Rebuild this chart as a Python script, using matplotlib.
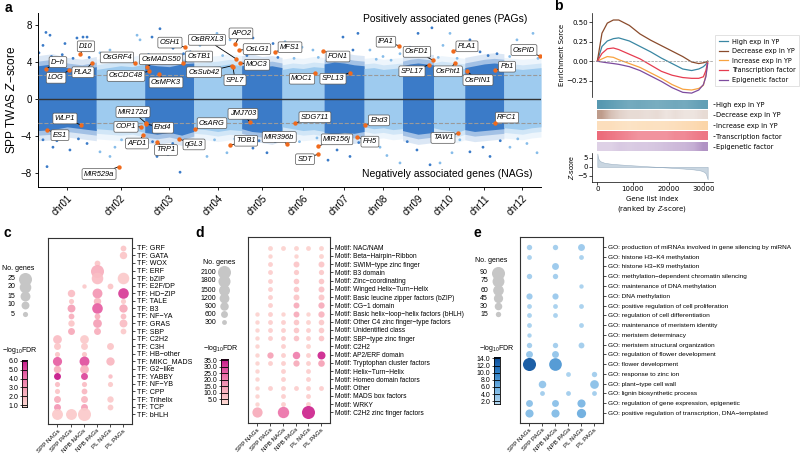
import numpy as np
import matplotlib
matplotlib.use("Agg")
import matplotlib.pyplot as plt
from matplotlib.colors import LinearSegmentedColormap, Normalize
from matplotlib.lines import Line2D

plt.rcParams['font.family'] = ['Liberation Sans', 'DejaVu Sans']
plt.rcParams['mathtext.fontset'] = 'custom'
plt.rcParams['mathtext.it'] = 'Liberation Sans:italic'
plt.rcParams['mathtext.rm'] = 'Liberation Sans'

# ---------------- panel a data ----------------
chrom_names = ['chr01', 'chr02', 'chr03', 'chr04', 'chr05', 'chr06',
               'chr07', 'chr08', 'chr09', 'chr10', 'chr11', 'chr12']
chrom_len = [43.27, 35.94, 36.41, 35.50, 29.96, 31.25, 29.70, 28.44, 23.01, 23.21, 29.02, 27.53]

# edges of the dense band of genes (z) at 5 evenly spaced points on each chromosome
core_up = [[3.6, 3.8, 3.4, 3.2, 3.5], [3.2, 3.4, 3.6, 3.5, 3.8], [3.8, 3.6, 3.5, 3.8, 3.9],
           [3.4, 3.5, 3.6, 3.8, 3.6], [3.6, 3.8, 3.5, 3.6, 3.4], [3.2, 3.4, 3.3, 3.5, 3.4],
           [3.8, 4.0, 3.9, 3.7, 3.6], [3.3, 3.4, 3.2, 3.3, 3.4], [3.6, 3.8, 3.9, 3.8, 3.7],
           [3.4, 3.6, 3.5, 3.4, 3.3], [3.4, 3.6, 3.8, 3.9, 3.8], [3.4, 3.3, 3.2, 3.3, 3.4]]
core_lo = [[-3.4, -3.3, -3.0, -3.2, -3.4], [-3.2, -3.3, -3.4, -3.3, -3.6], [-3.6, -3.8, -3.6, -3.9, -3.5],
           [-3.2, -3.3, -3.5, -3.3, -3.4], [-3.2, -3.5, -3.6, -3.8, -3.4], [-3.0, -3.2, -3.4, -3.3, -3.5],
           [-3.6, -3.8, -3.6, -3.7, -3.5], [-3.0, -3.2, -3.1, -3.3, -3.2], [-3.4, -3.6, -3.8, -3.7, -3.6],
           [-3.1, -3.3, -3.4, -3.6, -3.3], [-3.3, -3.5, -3.4, -3.3, -3.2], [-3.1, -3.2, -3.3, -3.1, -3.0]]

# scattered genes outside the band (genome position Mb, z)
out_pos = [5.9, 8.9, 3.7, 28.9, 33.4, 36.4, 0.7, 20.0, 10, 18, 26, 38, 6.7, 11.1, 23.7, 36.4, 3.7, 17.8, 14, 30,
           46.0, 53.4, 73.5, 75.7, 60.8, 50, 66, 46.0, 57.1, 53.4, 69.7, 62, 76,
           90.5, 84.6, 100.2, 82, 94, 108, 113, 105.4, 96.5, 88.3, 85, 100, 110,
           120.2, 132.8, 142.5, 123.9, 128, 137, 125.4, 140.2, 120.2, 131, 146,
           159.5, 167.0, 174.4, 155, 178, 169.9, 159.5, 164, 176,
           183.3, 195.9, 204.0, 190, 208, 201.8, 186, 194, 207,
           226.3, 237.4, 233.7, 218, 229, 215.2, 231.5, 221.9, 238,
           246.3, 256.0, 268.6, 251, 262, 253.8, 268.6, 258.9, 247,
           282.0, 292.3, 276.0, 286, 290.9, 281.2, 274,
           305.7, 300.5, 297, 311, 307.2, 298.3, 313,
           320.5, 328.0, 340.6, 334, 330.2, 320.5, 335.4, 343,
           355.4, 367.3, 362.8, 350, 371, 350.2, 362.8, 370.3, 356]
out_z = [7.2, 6.9, 5.8, 6.6, 6.7, 6.7, 5.0, 6.0, 4.6, 4.8, 4.4, 4.5, -7.3, -5.2, -5.5, -4.8, -4.4, -4.2, -4.5, -4.3,
         5.0, 5.3, 6.9, 6.4, 4.6, 4.4, 4.7, -5.7, -5.2, -6.2, -4.8, -4.4, -4.5,
         7.6, 6.7, 5.5, 4.8, 4.6, 4.9, 5.1, -7.9, -6.0, -6.2, -4.6, -4.8, -4.5,
         5.8, 7.1, 6.4, 4.4, 4.6, 4.7, -6.2, -5.8, -5.2, -4.4, -4.3,
         6.6, 5.6, 6.0, 4.7, 4.5, -5.8, -5.3, -4.5, -4.6,
         6.2, 5.6, 5.3, 4.4, 4.5, -6.2, -4.3, -4.6, -4.2,
         6.7, 7.1, 5.3, 4.9, 4.8, -6.6, -6.2, -5.5, -4.7,
         5.3, 4.6, 4.9, 4.3, 4.2, -5.2, -6.9, -6.1, -4.3,
         7.1, 7.7, 5.6, 4.8, -7.1, -5.5, -4.6,
         7.1, 5.8, 4.5, 4.4, -5.8, -6.9, -4.4,
         6.4, 5.1, 4.9, 4.7, -5.2, -5.7, -6.2, -4.5,
         6.4, 7.1, 5.3, 4.6, 4.4, -5.2, -4.8, -5.8, -4.3]

# labelled genes: name, chromosome, position in chromosome (Mb), z
gene_name = ['D−h', 'LOG', 'D10', 'PLA2', 'OsGRF4', 'OsMADS50', 'OsCDC48', 'OsMPK3', 'OSH1', 'OsTB1',
             'OsBRXL3', 'APO2', 'OsSub42', 'SPL7', 'OsLG1', 'MOC3', 'MFS1', 'FON1', 'MOC1', 'SPL13',
             'IPA1', 'OsFD1', 'SPL17', 'PLA1', 'OsPht1', 'OsPIN1', 'Pb1', 'OsPID',
             'WLP1', 'ES1', 'MIR529a', 'MIR172d', 'COP1', 'Ehd4', 'AFD1', 'TRP1', 'qGL3', 'OsARG',
             'JMJ703', 'TOB1', 'MIR396b', 'SDG711', 'SDT', 'MIR156j', 'FH5', 'Ehd3', 'TAW1', 'RFC1']
gene_chr = [1, 1, 1, 1, 2, 3, 3, 3, 3, 3, 4, 4, 4, 4, 4, 4, 5, 6, 6, 7, 8, 9, 9, 10, 10, 11, 11, 12,
            1, 1, 2, 3, 2, 3, 2, 3, 3, 4, 5, 4, 6, 6, 6, 6, 7, 8, 10, 11]
gene_pos = [5.7, 23.0, 31.2, 40.1, 28.7, 1.4, 3.1, 10.5, 29.8, 28.3, 31.3, 30.6, 28.3, 29.0, 33.6, 34.3,
            24.7, 30.4, 24.5, 19.1, 26.1, 22.6, 19.4, 14.5, 16.0, 1.6, 22.4, 26.8,
            31.9, 6.7, 16.8, 0.9, 33.4, 1.3, 34.9, 9.1, 25.4, 0.9, 6.2, 26.9, 3.7, 9.6, 26.7, 26.5,
            24.3, 0.6, 18.2, 22.4]
gene_z = [3.24, 3.1, 4.86, 3.9, 3.9, 3.5, 3.0, 2.7, 5.6, 3.9, 4.35, 5.9, 3.6, 3.5, 5.3, 3.9,
          5.1, 5.2, 2.85, 2.85, 5.75, 4.2, 3.7, 5.2, 3.9, 3.0, 3.1, 4.65,
          -2.8, -3.3, -7.3, -2.6, -3.0, -2.7, -3.9, -4.6, -4.3, -3.25, -2.5, -5.0, -4.9, -2.6, -5.95, -5.1,
          -4.1, -2.8, -3.7, -2.6]

# ---------------- panel b data ----------------
es_index = [0, 1300, 2800, 4500, 6000, 9000, 12000, 15000, 18000, 21000, 24000, 26500, 28500, 29800, 30500, 31000]
es_high = [0, 0.19, 0.26, 0.29, 0.30, 0.26, 0.19, 0.12, 0.04, -0.03, -0.10, -0.12, -0.10, -0.07, -0.04, 0.0]
es_decr = [0, 0.36, 0.49, 0.53, 0.53, 0.46, 0.35, 0.27, 0.20, 0.13, 0.06, -0.01, -0.03, -0.02, -0.01, 0.0]
es_incr = [0, 0.03, 0.06, 0.05, 0.02, -0.03, -0.08, -0.15, -0.22, -0.30, -0.36, -0.37, -0.35, -0.31, -0.18, -0.02]
es_tf = [0, 0.10, 0.16, 0.17, 0.15, 0.09, 0.03, -0.05, -0.13, -0.18, -0.21, -0.22, -0.22, -0.20, -0.12, -0.01]
es_epi = [0, -0.01, -0.02, -0.03, -0.04, -0.07, -0.12, -0.19, -0.26, -0.34, -0.40, -0.41, -0.37, -0.30, -0.20, -0.03]
set_names = ['High exp in YP', 'Decrease exp in YP', 'Increase exp in YP', 'Transcription factor', 'Epigenetic factor']

# hit density along the ranked list (12 bins) for each gene set
hit_high = [0.85, 0.8, 0.75, 0.7, 0.72, 0.7, 0.68, 0.7, 0.72, 0.7, 0.75, 0.8]
hit_decr = [0.55, 0.35, 0.25, 0.2, 0.2, 0.18, 0.2, 0.15, 0.18, 0.15, 0.15, 0.2]
hit_incr = [0.35, 0.35, 0.32, 0.3, 0.32, 0.33, 0.32, 0.33, 0.35, 0.38, 0.4, 0.45]
hit_tf = [0.75, 0.7, 0.65, 0.6, 0.55, 0.55, 0.55, 0.55, 0.6, 0.6, 0.65, 0.7]
hit_epi = [0.25, 0.25, 0.3, 0.28, 0.3, 0.3, 0.32, 0.35, 0.38, 0.4, 0.45, 0.6]

rank_index = [0, 200, 500, 1000, 2000, 4000, 8000, 12000, 16000, 20000, 24000, 27000, 29000, 30000, 30500, 31000]
rank_z = [7.5, 5.0, 3.8, 3.0, 2.3, 1.7, 1.1, 0.6, 0.1, -0.4, -0.9, -1.4, -2.0, -2.8, -3.8, -7.0]

# ---------------- panels c, d, e data ----------------
groups = ['SPP NAGs', 'SPP PAGs', 'NPB NAGs', 'NPB PAGs', 'PL NAGs', 'PL PAGs']

c_terms = ['TF: GRF', 'TF: GATA', 'TF: WOX', 'TF: ERF', 'TF: bZIP', 'TF: E2F/DP', 'TF: HD−ZIP', 'TF: TALE',
           'TF: B3', 'TF: NF−YA', 'TF: GRAS', 'TF: SBP', 'TF: C2H2', 'TF: C3H', 'TF: HB−other',
           'TF: MIKC_MADS', 'TF: G2−like', 'TF: YABBY', 'TF: NF−YB', 'TF: CPP', 'TF: Trihelix', 'TF: TCP', 'TF: bHLH']
c_genes = [[0, 0, 0, 0, 0, 6], [0, 0, 0, 0, 0, 9], [0, 0, 0, 6, 0, 0], [0, 0, 0, 25, 0, 0],
           [0, 0, 0, 20, 0, 20], [0, 0, 4, 0, 6, 0], [0, 9, 0, 15, 0, 17], [0, 5, 0, 9, 0, 5],
           [0, 10, 0, 17, 0, 11], [0, 6, 0, 6, 0, 6], [0, 7, 0, 12, 0, 10], [0, 8, 0, 8, 0, 6],
           [12, 0, 12, 0, 0, 0], [8, 0, 8, 0, 8, 0], [5, 0, 5, 0, 0, 0], [13, 0, 15, 0, 11, 0],
           [9, 0, 12, 0, 0, 0], [8, 0, 8, 0, 4, 0], [5, 0, 5, 0, 5, 0], [5, 0, 6, 0, 0, 0],
           [8, 0, 8, 0, 7, 0], [8, 0, 8, 0, 6, 0], [18, 18, 25, 0, 0, 0]]
c_fdr = [[0, 0, 0, 0, 0, 1.5], [0, 0, 0, 0, 0, 1.5], [0, 0, 0, 1.5, 0, 0], [0, 0, 0, 2.3, 0, 0],
         [0, 0, 0, 1.8, 0, 1.3], [0, 0, 1.3, 0, 1.5, 0], [0, 1.8, 0, 3.0, 0, 5.2], [0, 1.5, 0, 2.0, 0, 1.3],
         [0, 2.8, 0, 4.5, 0, 2.5], [0, 2.3, 0, 2.3, 0, 1.8], [0, 1.5, 0, 2.8, 0, 1.8], [0, 2.5, 0, 2.3, 0, 1.3],
         [1.8, 0, 1.3, 0, 0, 0], [1.5, 0, 1.3, 0, 1.5, 0], [1.5, 0, 1.5, 0, 0, 0], [4.5, 0, 4.8, 0, 2.0, 0],
         [2.3, 0, 2.3, 0, 0, 0], [6.0, 0, 5.0, 0, 1.8, 0], [1.8, 0, 1.8, 0, 1.3, 0], [1.5, 0, 2.0, 0, 0, 0],
         [2.3, 0, 2.0, 0, 1.3, 0], [3.0, 0, 2.8, 0, 1.3, 0], [1.3, 1.3, 1.3, 0, 0, 0]]

d_terms = ['Motif: NAC/NAM', 'Motif: Beta−Hairpin−Ribbon', 'Motif: SWIM−type zinc finger', 'Motif: B3 domain',
           'Motif: Zinc−coordinating', 'Motif: Winged Helix−Turn−Helix', 'Motif: Basic leucine zipper factors (bZIP)',
           'Motif: CG−1 domain', 'Motif: Basic helix−loop−helix factors (bHLH)', 'Motif: Other C4 zinc finger−type factors',
           'Motif: Unidentified class', 'Motif: SBP−type zinc finger', 'Motif: C2H2', 'Motif: AP2/ERF domain',
           'Motif: Tryptophan cluster factors', 'Motif: Helix−Turn−Helix', 'Motif: Homeo domain factors',
           'Motif: Other', 'Motif: MADS box factors', 'Motif: WRKY', 'Motif: C2H2 zinc finger factors']
d_genes = [[0, 300, 300, 300, 300, 300], [0, 250, 0, 250, 0, 300], [0, 300, 0, 450, 0, 450],
           [0, 300, 0, 350, 0, 350], [0, 300, 0, 400, 0, 400], [0, 300, 0, 400, 0, 450],
           [0, 300, 0, 450, 0, 450], [0, 300, 0, 450, 0, 500], [250, 300, 250, 450, 250, 500],
           [250, 300, 300, 400, 300, 400], [250, 300, 300, 400, 300, 400], [250, 300, 300, 400, 300, 400],
           [250, 0, 300, 0, 300, 0], [250, 500, 300, 700, 300, 800], [250, 300, 300, 500, 300, 550],
           [250, 0, 300, 0, 300, 0], [250, 0, 300, 0, 300, 0], [250, 300, 300, 300, 300, 300],
           [250, 0, 300, 0, 300, 0], [250, 0, 300, 0, 300, 0], [1300, 0, 1600, 0, 2100, 0]]
d_fdr = [[0, 3, 3, 3, 3, 3], [0, 3, 0, 3, 0, 3], [0, 4, 0, 6, 0, 6], [0, 4, 0, 5, 0, 5],
         [0, 4, 0, 6, 0, 6], [0, 4, 0, 6, 0, 7], [0, 4, 0, 6, 0, 6], [0, 4, 0, 12, 0, 12],
         [3, 4, 3, 12, 3, 10], [3, 4, 4, 6, 3, 5], [3, 4, 4, 6, 4, 5], [3, 4, 5, 7, 4, 6],
         [3, 0, 4, 0, 3, 0], [3, 14, 4, 20, 4, 33], [3, 4, 4, 12, 4, 14], [3, 0, 4, 0, 4, 0],
         [3, 0, 4, 0, 4, 0], [3, 4, 4, 4, 4, 4], [3, 0, 4, 0, 4, 0], [3, 0, 4, 0, 4, 0], [12, 0, 22, 0, 33, 0]]

e_terms = ['GO: production of miRNAs involved in gene silencing by miRNA', 'GO: histone H3−K4 methylation',
           'GO: histone H3−K9 methylation', 'GO: methylation−dependent chromatin silencing',
           'GO: maintenance of DNA methylation', 'GO: DNA methylation',
           'GO: positive regulation of cell proliferation', 'GO: regulation of cell differentiation',
           'GO: maintenance of meristem identity', 'GO: meristem determinacy',
           'GO: meristem structural organization', 'GO: regulation of flower development',
           'GO: flower development', 'GO: response to zinc ion', 'GO: plant−type cell wall',
           'GO: lignin biosynthetic process', 'GO: regulation of gene expression, epigenetic',
           'GO: positive regulation of transcription, DNA−templated']
e_genes = [[15, 0, 15, 0, 25, 0], [12, 0, 0, 0, 12, 0], [0, 0, 25, 0, 0, 0], [15, 0, 15, 0, 0, 0],
           [0, 0, 0, 0, 10, 0], [20, 0, 20, 0, 0, 0], [12, 0, 12, 0, 12, 0], [12, 0, 12, 0, 0, 0],
           [12, 0, 0, 0, 12, 0], [10, 0, 0, 0, 0, 0], [15, 0, 15, 0, 18, 0], [25, 0, 25, 0, 0, 0],
           [90, 0, 85, 0, 0, 0], [0, 0, 0, 12, 0, 15], [0, 30, 0, 0, 0, 40], [0, 12, 0, 12, 0, 12],
           [25, 0, 25, 0, 35, 0], [35, 0, 35, 0, 45, 0]]
e_fdr = [[2.5, 0, 2.5, 0, 3, 0], [2, 0, 0, 0, 2, 0], [0, 0, 3, 0, 0, 0], [2.5, 0, 2.5, 0, 0, 0],
         [0, 0, 0, 0, 2, 0], [3, 0, 3, 0, 0, 0], [2, 0, 2, 0, 2, 0], [2, 0, 2, 0, 0, 0],
         [2, 0, 0, 0, 2, 0], [2, 0, 0, 0, 0, 0], [2.5, 0, 2.5, 0, 2.5, 0], [3.5, 0, 3.5, 0, 0, 0],
         [13.5, 0, 8, 0, 0, 0], [0, 0, 0, 2, 0, 2.5], [0, 3.5, 0, 0, 0, 4], [0, 2.5, 0, 2.5, 0, 2.5],
         [4, 0, 4, 0, 5, 0], [4.5, 0, 4.5, 0, 6, 0]]

# ---------------- figure ----------------
fig = plt.figure(figsize=(8, 4.55), dpi=100)


def ax_px(x0, y0, x1, y1, **kw):
    return fig.add_axes([x0 / 800, 1 - y1 / 455, (x1 - x0) / 800, (y1 - y0) / 455], **kw)


# ---- a: Manhattan ----
dark, light, orange = '#3b7bc8', '#9ecbef', '#f06a1c'
chrom_start = np.concatenate([[0], np.cumsum(chrom_len)[:-1]])
total = sum(chrom_len)
ax = ax_px(38, 13, 541, 187)
for k in range(12):
    col = dark if k % 2 == 0 else light
    xs = np.linspace(chrom_start[k], chrom_start[k] + chrom_len[k], len(core_up[k]))
    up, lo = np.array(core_up[k]), np.array(core_lo[k])
    ax.fill_between(xs, lo - 1.1, up + 1.1, color=col, alpha=0.18, lw=0)
    ax.fill_between(xs, lo - 0.5, up + 0.5, color=col, alpha=0.35, lw=0)
    ax.fill_between(xs, lo, up, color=col, lw=0)
out_pos = np.array(out_pos)
out_chr = np.searchsorted(chrom_start, out_pos, side='right') - 1
ax.scatter(out_pos, out_z, s=4, lw=0, c=[dark if k % 2 == 0 else '#86bce9' for k in out_chr], zorder=2)
ax.axhline(0, color='#333333', lw=1.0, zorder=3)
ax.axhline(2.6, color='#9a9a9a', lw=0.8, ls='--', zorder=3)
ax.axhline(-2.6, color='#9a9a9a', lw=0.8, ls='--', zorder=3)

label_x = [14.8, 13.4, 35.6, 33.4, 58.6, 91.3, 65.3, 95.0, 97.9, 119.5, 125.4, 150.6, 123.2, 146.2,
           162.5, 162.5, 187.0, 222.6, 195.9, 218.9, 258.2, 281.2, 277.5, 318.3, 304.2, 326.5, 348.0, 360.6,
           20.0, 16.3, 45.3, 70.5, 65.3, 92.7, 73.5, 95.0, 115.8, 129.1, 152.1, 154.3, 179.0, 205.5,
           198.1, 221.9, 246.3, 253.0, 300.5, 348.0]
label_z = [4.0, 2.3, 5.7, 2.9, 4.5, 4.3, 2.5, 1.8, 6.1, 4.6, 6.4, 7.1, 2.9, 2.05, 5.4, 3.7, 5.6, 4.6,
           2.2, 2.2, 6.2, 5.1, 3.0, 5.7, 3.0, 2.05, 3.5, 5.3,
           -2.1, -3.9, -8.1, -1.4, -3.0, -3.1, -4.8, -5.5, -4.9, -2.6, -1.6, -4.5, -4.1, -1.95,
           -6.5, -4.35, -4.6, -2.3, -4.2, -2.0]
for i, name in enumerate(gene_name):
    gx = chrom_start[gene_chr[i] - 1] + gene_pos[i]
    ax.annotate(name, xy=(gx, gene_z[i]), xytext=(label_x[i], label_z[i]), fontsize=5.4, style='italic',
                ha='center', va='center', zorder=5,
                bbox=dict(boxstyle='round,pad=0.25,rounding_size=0.2', fc='white', ec='#555555', lw=0.5),
                arrowprops=dict(arrowstyle='-', color='black', lw=0.6, shrinkA=0, shrinkB=0))
    ax.scatter(gx, gene_z[i], s=10, color=orange, lw=0, zorder=6)
ax.text(302, 8.6, 'Positively associated genes (PAGs)', fontsize=7.5, ha='center', va='center')
ax.text(303.5, -8.1, 'Negatively associated genes (NAGs)', fontsize=7.5, ha='center', va='center')
ax.set_xlim(0, total)
ax.set_ylim(-9.5, 9.3)
ax.set_yticks([-8, -4, 0, 4, 8])
ax.set_yticklabels(['−8', '−4', '0', '4', '8'])
ax.set_xticks(chrom_start + np.array(chrom_len) / 2)
ax.set_xticklabels(chrom_names, rotation=45, ha='right', rotation_mode='anchor')
ax.tick_params(labelsize=7, length=2.5, width=0.6, pad=2)
ax.set_ylabel(r'SPP TWAS $Z$−score', fontsize=8.5, labelpad=2)
for s in ['top', 'right']:
    ax.spines[s].set_visible(False)
for s in ['left', 'bottom']:
    ax.spines[s].set_linewidth(0.7)

# ---- b: enrichment ----
b_font = 'DejaVu Sans'
set_colors = ['#3a87a3', '#8a4b2c', '#f8a340', '#e63c50', '#7d4b9e']
axb = ax_px(592, 13, 713, 97)
for vals, col in zip([es_high, es_decr, es_incr, es_tf, es_epi], set_colors):
    axb.plot(es_index, vals, color=col, lw=0.9)
axb.axhline(0, color='#999999', lw=0.5, ls='--')
axb.set_xlim(-1500, 32500)
axb.set_ylim(-0.46, 0.62)
axb.set_xticks([])
axb.set_yticks([-0.25, 0, 0.25, 0.5])
axb.set_yticklabels(['−0.25', '0.00', '0.25', '0.50'], fontfamily=b_font)
axb.tick_params(labelsize=5, length=2, width=0.5, pad=1)
axb.set_ylabel('Enrichment Sorce', fontsize=5, fontfamily=b_font, labelpad=1)
for s in ['top', 'right', 'bottom']:
    axb.spines[s].set_visible(False)
axb.spines['left'].set_linewidth(0.5)
handles = [Line2D([], [], color=c, lw=0.9) for c in set_colors]
fig.legend(handles, set_names, loc='upper left', bbox_to_anchor=(712 / 800, 1 - 32 / 455),
           prop={'family': b_font, 'size': 4.7}, frameon=True, edgecolor='#cccccc', fancybox=False,
           handlelength=1.5, labelspacing=0.55, borderpad=0.5, handletextpad=0.6).get_frame().set_linewidth(0.5)

axr = ax_px(592, 99, 713, 152)
for i, (dens, col) in enumerate(zip([hit_high, hit_decr, hit_incr, hit_tf, hit_epi], set_colors)):
    cm = LinearSegmentedColormap.from_list('r%d' % i, ['white', col])
    axr.imshow(np.array(dens)[np.newaxis, :], extent=(0, 31000, i + 0.9, i + 0.1), cmap=cm,
               vmin=0, vmax=1, aspect='auto', interpolation='bilinear')
axr.set_xlim(-1500, 32500)
axr.set_ylim(5, 0)
axr.set_xticks([])
axr.yaxis.tick_right()
axr.set_yticks(np.arange(5) + 0.5)
axr.set_yticklabels(set_names, fontfamily=b_font)
axr.tick_params(axis='y', labelsize=4.9, length=1.5, width=0.5, pad=1)
for s in axr.spines.values():
    s.set_visible(False)

axz = ax_px(592, 153, 713, 182)
axz.fill_between(rank_index, 0, rank_z, color='#c9d6e1', edgecolor='#9fb3c5', lw=0.4)
axz.set_xlim(-1500, 32500)
axz.set_ylim(-8.5, 7.8)
axz.set_yticks([-5, 0, 5])
axz.set_yticklabels(['−5', '0', '5'], fontfamily=b_font)
axz.set_xticks([0, 10000, 20000, 30000])
axz.set_xticklabels(['0', '10000', '20000', '30000'], fontfamily=b_font)
axz.tick_params(labelsize=5, length=2, width=0.5, pad=1)
axz.set_ylabel(r'$Z$-score', fontsize=5, labelpad=1)
axz.set_xlabel('Gene list index\n' + r'(ranked by $Z$-score)', fontsize=5, fontfamily=b_font, labelpad=3)
for s in ['top', 'right']:
    axz.spines[s].set_visible(False)
for s in ['left', 'bottom']:
    axz.spines[s].set_linewidth(0.5)

# ---- c, d, e: dot plots ----
pink = LinearSegmentedColormap.from_list('pink', ['#fdd9d3', '#f7a9ba', '#eb6aa8', '#c5168a'])
blue = LinearSegmentedColormap.from_list('blue', ['#b4d8f2', '#72b2e2', '#2f80c6', '#0a4c98'])


def dot_area(n, lo, hi):
    return 10 + (np.clip(n, lo, hi) - lo) / (hi - lo) * 78


def dot_panel(box, terms, genes, fdr, cmap, norm, lo, hi, fs):
    a = ax_px(*box)
    for i in range(len(terms)):
        for j in range(len(groups)):
            if genes[i][j] > 0:
                a.scatter(j, i, s=dot_area(genes[i][j], lo, hi), color=cmap(norm(fdr[i][j])),
                          lw=0, alpha=0.95)
    a.set_xlim(-0.72, 5.7)
    a.set_ylim(len(terms) - 1 + 1.3, -1.3)
    a.set_xticks(range(len(groups)))
    a.set_xticklabels(groups, rotation=45, ha='right', rotation_mode='anchor')
    a.set_yticks(range(len(terms)))
    a.set_yticklabels(terms)
    a.yaxis.tick_right()
    a.tick_params(labelsize=fs, length=2, width=0.5, pad=1.5)
    a.tick_params(axis='x', labelsize=4.5, pad=1)
    for s in a.spines.values():
        s.set_linewidth(0.8)
        s.set_color('#333333')
    return a


c_norm = Normalize(0.8, 6.1)
d_norm = Normalize(1.5, 35.8)
e_norm = Normalize(1.2, 14.4)
dot_panel((48, 238, 132, 424), c_terms, c_genes, c_fdr, pink, c_norm, 4, 25, 5.1)
dot_panel((248, 237, 330, 423), d_terms, d_genes, d_fdr, pink, d_norm, 250, 2100, 4.8)
ae = dot_panel((520, 237, 603, 423), e_terms, e_genes, e_fdr, blue, e_norm, 10, 90, 4.65)
ae.set_ylim(18.03, -1.02)

# colour bars
for box, cmap, norm, ticks in [((22, 360, 27, 407), pink, c_norm, [1, 2, 3, 4, 5, 6]),
                               ((221, 359, 228, 404), pink, d_norm, [5, 10, 15, 20, 25, 30, 35]),
                               ((494, 357, 500, 404), blue, e_norm, [2, 4, 6, 8, 10, 12, 14])]:
    cb = ax_px(*box)
    grad = np.linspace(norm.vmin, norm.vmax, 100)[:, np.newaxis]
    cb.imshow(grad, extent=(0, 1, norm.vmin, norm.vmax), origin='lower', aspect='auto', cmap=cmap, norm=norm)
    cb.hlines(ticks, 0, 1, color='black', lw=0.6)
    cb.set_xticks([])
    cb.set_yticks(ticks)
    cb.set_yticklabels(['%.1f' % t for t in ticks])
    cb.tick_params(labelsize=5, length=1.5, width=0.5, pad=1)
    for s in cb.spines.values():
        s.set_linewidth(0.6)

# overlay for legends and panel letters
ov = fig.add_axes([0, 0, 1, 1])
ov.set_xlim(0, 800)
ov.set_ylim(455, 0)
ov.axis('off')
for vals, ys, cx, lx, lo, hi, title_xy in [
        ([25, 20, 15, 10, 5], [279, 287, 296, 305, 314], 25, 15, 4, 25, (18, 268)),
        ([2100, 1800, 1500, 1200, 900, 600, 300], [272, 281, 290, 298, 306, 314, 322], 224, 216, 250, 2100, (219, 262)),
        ([90, 75, 60, 45, 30, 15], [273, 281, 290, 298, 306, 314], 498, 488, 10, 90, (491, 260))]:
    for v, y in zip(vals, ys):
        ov.scatter(cx, y, s=dot_area(v, lo, hi), color='#c6c6c6', lw=0)
        ov.text(lx, y, str(v), fontsize=5, ha='right', va='center')
    ov.text(title_xy[0], title_xy[1], 'No. genes', fontsize=5, ha='center', va='center')
for x, y in [(20, 350), (221, 349), (497, 348)]:
    ov.text(x, y, r'−log$_{10}$FDR', fontsize=5, ha='center', va='center')
for letter, x, y in [('a', 8, 8), ('b', 558, 6), ('c', 7, 233), ('d', 200, 233), ('e', 477, 233)]:
    ov.text(x, y, letter, fontsize=10, fontweight='bold', ha='center', va='center')

fig.savefig('out.png', dpi=100)
